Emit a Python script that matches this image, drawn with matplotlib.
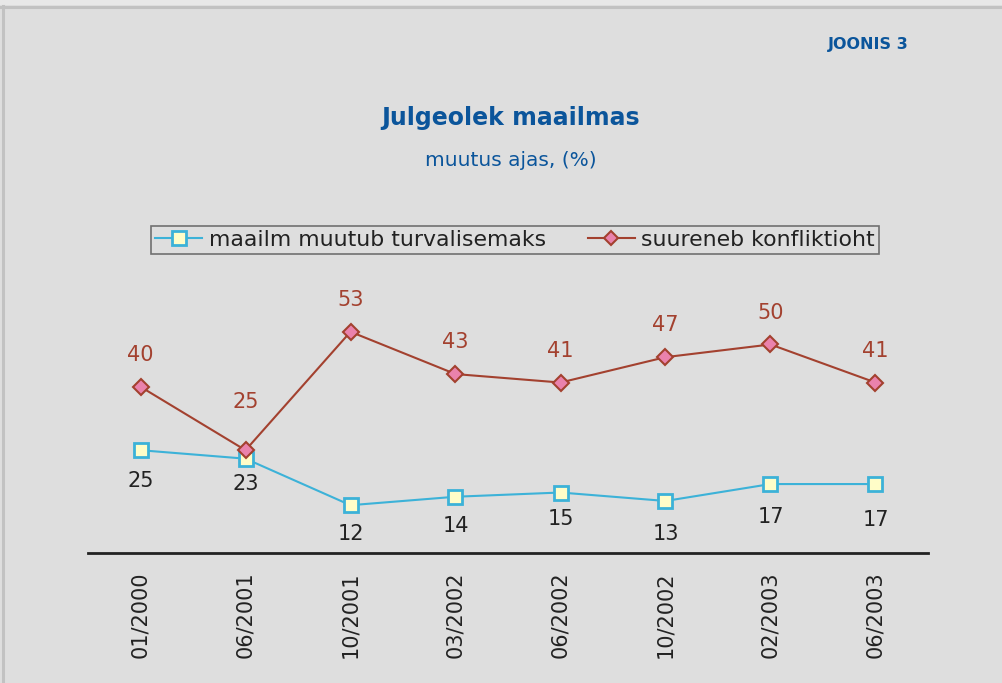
import matplotlib

matplotlib.use("Agg")
import matplotlib.pyplot as plt
from matplotlib.lines import Line2D
from matplotlib.patches import Rectangle

periods = ["01/2000", "06/2001", "10/2001", "03/2002", "06/2002", "10/2002", "02/2003", "06/2003"]
safer = [25, 23, 12, 14, 15, 13, 17, 17]
conflict = [40, 25, 53, 43, 41, 47, 50, 41]
safer_label = "maailm muutub turvalisemaks"
conflict_label = "suureneb konfliktioht"

BG = "#dedede"
BLUE_T = "#0b559b"
CYAN = "#3cb2d8"
RED = "#a3412f"
PINK = "#ea82ac"

plt.rcParams["font.family"] = "DejaVu Sans"
fig = plt.figure(figsize=(10.02, 6.83), dpi=100)
fig.patch.set_facecolor(BG)

# outer frame: lighter strip on top, grey border lines
fig.patches.append(Rectangle((0, 1 - 5 / 683), 1, 5 / 683, transform=fig.transFigure,
                             facecolor="#e8e8e8", edgecolor="none", zorder=0))
fig.add_artist(Line2D([0, 1], [1 - 7 / 683] * 2, color="#c2c2c2", lw=2.2))
fig.add_artist(Line2D([3 / 1002] * 2, [0, 1 - 6 / 683], color="#c2c2c2", lw=2.2))

fig.text(868 / 1002, 1 - 45 / 683, "JOONIS 3", color=BLUE_T, fontsize=11.5,
         fontweight="bold", ha="center", va="center")
fig.text(511 / 1002, 1 - 118 / 683, "Julgeolek maailmas", color=BLUE_T, fontsize=17,
         fontweight="bold", ha="center", va="center")
fig.text(511 / 1002, 1 - 161 / 683, "muutus ajas, (%)", color=BLUE_T, fontsize=14.5,
         ha="center", va="center")

ax = fig.add_axes([88 / 1002, 130 / 683, 840 / 1002, 253.8 / 683])
ax.set_facecolor("none")
x = list(range(len(periods)))
ax.plot(x, safer, color=CYAN, lw=1.5, marker="s", ms=9.5, mfc="#fffdc8",
        mec=CYAN, mew=2, zorder=3, clip_on=False)
ax.plot(x, conflict, color=RED, lw=1.5, marker="D", ms=8.5, mfc=PINK,
        mec=RED, mew=1.5, zorder=4, clip_on=False)

blue_off = [-22, -18, -21, -21, -19, -24, -24, -26]
red_off = [23, 35, 23, 23, 23, 23, 23, 23]
for i, v in enumerate(safer):
    ax.annotate(str(v), (i, v), xytext=(0, blue_off[i]), textcoords="offset points",
                ha="center", va="center", fontsize=15, color="#222222")
for i, v in enumerate(conflict):
    ax.annotate(str(v), (i, v), xytext=(0, red_off[i]), textcoords="offset points",
                ha="center", va="center", fontsize=15, color=RED)

ax.set_xlim(-0.5, 7.5)
ax.set_ylim(0.7, 60.7)
for s in ("top", "right", "left"):
    ax.spines[s].set_visible(False)
ax.spines["bottom"].set_color("#222222")
ax.spines["bottom"].set_linewidth(2)
ax.set_yticks([])
ax.set_xticks(x)
ax.set_xticklabels(periods, rotation=90, fontsize=15, color="#222222")
ax.tick_params(axis="x", length=0, pad=13)

h1 = Line2D([], [], color=CYAN, lw=1.5, marker="s", ms=10, mfc="#fffdc8", mec=CYAN, mew=2)
h2 = Line2D([], [], color=RED, lw=1.5, marker="D", ms=7, mfc=PINK, mec=RED, mew=1.5)
leg = fig.legend([h1, h2], [safer_label, conflict_label], ncol=2,
                 loc="center", bbox_to_anchor=(515 / 1002, 1 - 240 / 683),
                 fontsize=15.8, frameon=True, fancybox=False, handlelength=2.15,
                 handletextpad=0.3, columnspacing=1.9, borderpad=0.2,
                 labelcolor="#222222")
leg.get_frame().set_edgecolor("#555555")
leg.get_frame().set_facecolor(BG)
leg.get_frame().set_linewidth(1.2)

fig.savefig("out.png", dpi=100, facecolor=BG)
